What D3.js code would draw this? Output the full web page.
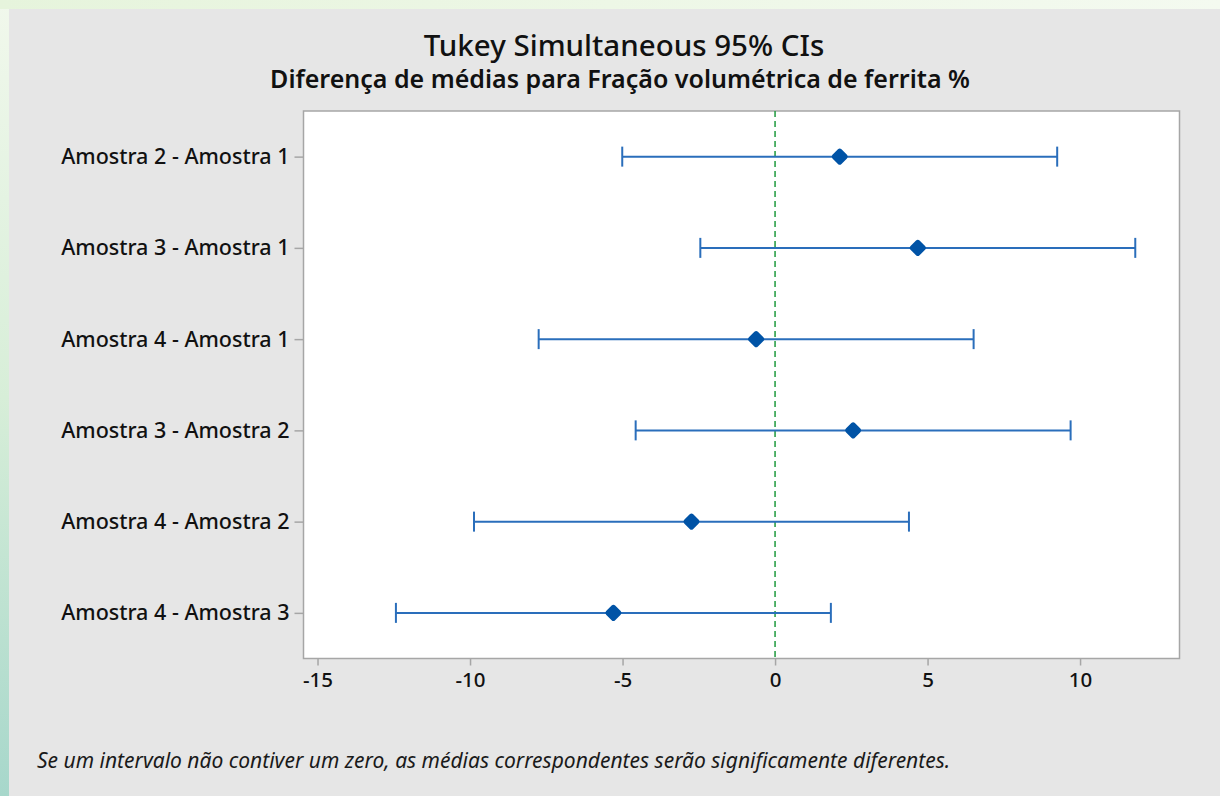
<!DOCTYPE html>
<html><head><meta charset="utf-8">
<script src="https://cdn.jsdelivr.net/npm/d3@7"></script>
<style>
html,body{margin:0;padding:0;background:#fff;}
svg{display:block;font-family:"Noto Sans","Open Sans",sans-serif;}
</style></head>
<body>
<svg id="chart" width="1220" height="796"></svg>
<script>
const comparisons = ["Amostra 2 - Amostra 1","Amostra 3 - Amostra 1","Amostra 4 - Amostra 1","Amostra 3 - Amostra 2","Amostra 4 - Amostra 2","Amostra 4 - Amostra 3"];
const centers = [2.12, 4.68, -0.62, 2.56, -2.74, -5.30];
const lowers  = [-5.01, -2.45, -7.75, -4.57, -9.87, -12.43];
const uppers  = [9.25, 11.81, 6.51, 9.69, 4.39, 1.83];
const xTicks = [-15, -10, -5, 0, 5, 10];
const title = "Tukey Simultaneous 95% CIs";
const subtitle = "Diferença de médias para Fração volumétrica de ferrita %";
const footnote = "Se um intervalo não contiver um zero, as médias correspondentes serão significamente diferentes.";

const svg = d3.select("#chart");
const W = 1220, H = 796;
const defs = svg.append("defs");
const g1 = defs.append("linearGradient").attr("id","bg").attr("x1",0).attr("y1",0).attr("x2",0).attr("y2",1);
g1.append("stop").attr("offset","0%").attr("stop-color","#f1f8ec");
g1.append("stop").attr("offset","50%").attr("stop-color","#d7eed8");
g1.append("stop").attr("offset","100%").attr("stop-color","#a7d7cb");
svg.append("rect").attr("width",W).attr("height",H).attr("fill","url(#bg)");
const g2 = defs.append("linearGradient").attr("id","topbg").attr("x1",0).attr("y1",0).attr("x2",1).attr("y2",0);
g2.append("stop").attr("offset","0%").attr("stop-color","#e6f4dc");
g2.append("stop").attr("offset","100%").attr("stop-color","#f4faf0");
svg.append("rect").attr("x",0).attr("y",0).attr("width",W).attr("height",9).attr("fill","url(#topbg)");
svg.append("rect").attr("x",9).attr("y",9).attr("width",W-9).attr("height",H-9).attr("fill","#e6e6e6");

const m = {left:303.5, right:1179.5, top:111, bottom:658.5};
const x = d3.scaleLinear().domain([-15.46, 13.26]).range([m.left, m.right]);
const y = d3.scalePoint().domain(comparisons).range([m.top, m.bottom]).padding(0.5);

svg.append("rect").attr("x",m.left).attr("y",m.top).attr("width",m.right-m.left).attr("height",m.bottom-m.top)
  .attr("fill","#fff").attr("stroke","#a6a6a6").attr("stroke-width",1.5);

// x axis
const xa = svg.append("g").attr("transform",`translate(0,${m.bottom})`)
  .call(d3.axisBottom(x).tickValues(xTicks).tickSize(7).tickPadding(7).tickFormat(d => String(d)));
xa.select(".domain").remove();
xa.selectAll("line").attr("stroke","#a6a6a6").attr("stroke-width",1.5);
xa.selectAll("text").attr("fill","#111").attr("font-size",20.5).attr("font-family","'Noto Sans',sans-serif").attr("font-weight",500);

// y axis
const ya = svg.append("g").attr("transform",`translate(${m.left},0)`)
  .call(d3.axisLeft(y).tickSize(9).tickPadding(5));
ya.select(".domain").remove();
ya.selectAll("line").attr("stroke","#a6a6a6").attr("stroke-width",1.5);
ya.selectAll("text").attr("fill","#111").attr("font-size",21.5).attr("font-family","'Noto Sans',sans-serif").attr("font-weight",500);

// zero line
svg.append("line").attr("x1",x(0)).attr("x2",x(0)).attr("y1",m.top).attr("y2",m.bottom)
  .attr("stroke","#1e9a3e").attr("stroke-width",1.5).attr("stroke-dasharray","6,4");

const rows = comparisons.map((c,i)=>({c, lo:lowers[i], hi:uppers[i], mid:centers[i]}));
const blue = "#2a6ebb";
const rg = svg.append("g");
rg.selectAll("line.ci").data(rows).join("line").attr("class","ci")
  .attr("x1",d=>x(d.lo)).attr("x2",d=>x(d.hi)).attr("y1",d=>y(d.c)).attr("y2",d=>y(d.c))
  .attr("stroke",blue).attr("stroke-width",2);
rg.selectAll("line.lo").data(rows).join("line").attr("class","lo")
  .attr("x1",d=>x(d.lo)).attr("x2",d=>x(d.lo)).attr("y1",d=>y(d.c)-10).attr("y2",d=>y(d.c)+10)
  .attr("stroke",blue).attr("stroke-width",2);
rg.selectAll("line.hi").data(rows).join("line").attr("class","hi")
  .attr("x1",d=>x(d.hi)).attr("x2",d=>x(d.hi)).attr("y1",d=>y(d.c)-10).attr("y2",d=>y(d.c)+10)
  .attr("stroke",blue).attr("stroke-width",2);
rg.selectAll("path.pt").data(rows).join("path").attr("class","pt")
  .attr("d","M0,-5.5L5.5,0L0,5.5L-5.5,0Z")
  .attr("transform",d=>`translate(${x(d.mid)},${y(d.c)})`)
  .attr("fill","#0053a6").attr("stroke","#0053a6").attr("stroke-width",5).attr("stroke-linejoin","round");

svg.append("text").attr("x",624).attr("y",56).attr("text-anchor","middle")
  .attr("font-size",29.5).attr("font-weight",500).attr("fill","#111").text(title);
svg.append("text").attr("x",620).attr("y",88).attr("text-anchor","middle")
  .attr("font-size",25).attr("font-weight",600).attr("fill","#111").text(subtitle);
svg.append("text").attr("x",37).attr("y",768)
  .attr("font-size",21).attr("font-style","italic").attr("fill","#1a1a1a").text(footnote);
</script>
</body></html>
